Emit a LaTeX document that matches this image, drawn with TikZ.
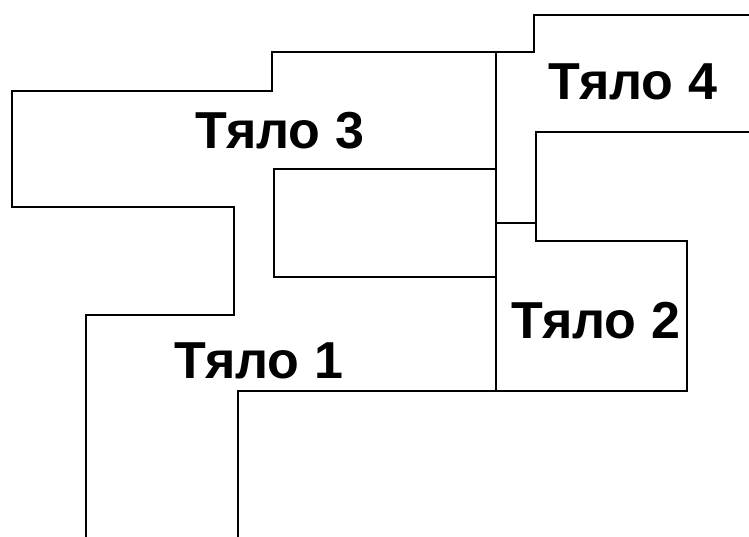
\documentclass[tikz,border=0pt]{standalone}
\usepackage{fontspec}
\setmainfont{Liberation Sans}
\begin{document}
\begin{tikzpicture}[x=1pt,y=-1pt,
  wall/.style={line width=1.4pt,line cap=rect,line join=miter},
  lbl/.style={inner sep=0pt,anchor=base,font=\fontsize{52}{52}\selectfont\bfseries}]
\useasboundingbox (0,0) rectangle (749,536);
\draw[wall] (749,15) -- (534,15) -- (534,52) -- (272,52) -- (272,91) -- (12,91) -- (12,207) -- (234,207) -- (234,315) -- (86,315) -- (86,540);
\draw[wall] (496,169) -- (274,169) -- (274,277) -- (496,277);
\draw[wall] (496,52) -- (496,391);
\draw[wall] (238,540) -- (238,391) -- (687,391) -- (687,241) -- (536,241) -- (536,132) -- (753,132);
\draw[wall] (496,223) -- (536,223);
\node[lbl] (t3) at (280,148) {Тяло 3};
\node[lbl] (t1) at (259,378) {Тяло 1};
\node[lbl] (t2) at (596,338) {Тяло 2};
\node[lbl] (t4) at (633,99) {Тяло 4};
\end{tikzpicture}
\end{document}
